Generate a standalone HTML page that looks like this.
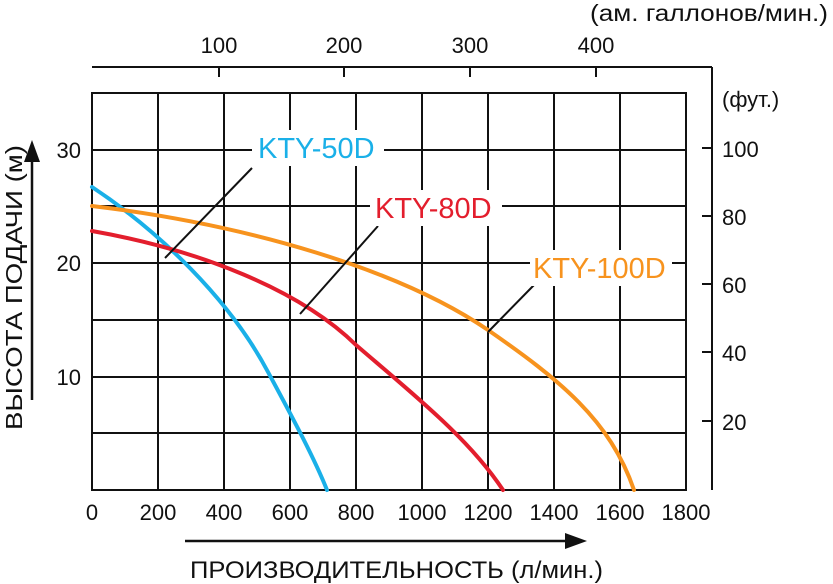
<!DOCTYPE html>
<html><head><meta charset="utf-8"><style>
html,body{margin:0;padding:0;background:#fff;}
svg{display:block;font-family:"Liberation Sans","DejaVu Sans",sans-serif;}
</style></head><body>
<svg width="833" height="584" viewBox="0 0 833 584" xmlns="http://www.w3.org/2000/svg">
<rect width="833" height="584" fill="#fff"/>
<g stroke="#111" stroke-width="2" fill="none">
<rect x="92" y="93" width="594" height="397"/>
<line x1="158" y1="93" x2="158" y2="490"/><line x1="224" y1="93" x2="224" y2="490"/>
<line x1="290" y1="93" x2="290" y2="490"/><line x1="356" y1="93" x2="356" y2="490"/>
<line x1="422" y1="93" x2="422" y2="490"/><line x1="488" y1="93" x2="488" y2="490"/>
<line x1="554" y1="93" x2="554" y2="490"/><line x1="620" y1="93" x2="620" y2="490"/>
<line x1="92" y1="150" x2="686" y2="150"/><line x1="92" y1="206" x2="686" y2="206"/>
<line x1="92" y1="263" x2="686" y2="263"/><line x1="92" y1="320" x2="686" y2="320"/>
<line x1="92" y1="377" x2="686" y2="377"/><line x1="92" y1="433" x2="686" y2="433"/>
<line x1="712" y1="67" x2="712" y2="490"/>
<line x1="92" y1="67" x2="712" y2="67"/>
<line x1="219" y1="67" x2="219" y2="77"/><line x1="344" y1="67" x2="344" y2="77"/>
<line x1="470" y1="67" x2="470" y2="77"/><line x1="596" y1="67" x2="596" y2="77"/>
<line x1="702" y1="148" x2="712" y2="148"/><line x1="702" y1="216" x2="712" y2="216"/>
<line x1="702" y1="284" x2="712" y2="284"/><line x1="702" y1="352" x2="712" y2="352"/>
<line x1="702" y1="421" x2="712" y2="421"/>
</g>
<g fill="none" stroke-width="4" stroke-linecap="round">
<path d="M92,187 C160,232 230,300 268,372 C295,422 315,460 327,490" stroke="#1ab0e8"/>
<path d="M92,231 C200,250 300,290 356,345 C420,400 470,440 503,490" stroke="#e31e2d"/>
<path d="M92,206 C250,225 400,270 488,330 C560,380 610,420 634,490" stroke="#f7931e"/>
</g>
<g stroke="#111" stroke-width="2">
<line x1="252" y1="168" x2="165" y2="258"/>
<line x1="378" y1="226" x2="300" y2="314"/>
<line x1="535" y1="284" x2="488" y2="332"/>
</g>
<rect x="252" y="130" width="132" height="36" fill="#fff"/>
<rect x="370" y="190" width="132" height="36" fill="#fff"/>
<rect x="530" y="250" width="142" height="36" fill="#fff"/>
<g font-size="29">
<text x="258" y="158" fill="#1ab0e8">KTY-50D</text>
<text x="375" y="218" fill="#e31e2d">KTY-80D</text>
<text x="533" y="278" fill="#f7931e">KTY-100D</text>
</g>
<g font-size="22" fill="#111">
<g text-anchor="end"><text x="81" y="158">30</text><text x="81" y="271">20</text><text x="81" y="385">10</text></g>
<g text-anchor="middle">
<text x="92" y="520">0</text><text x="158" y="520">200</text><text x="224" y="520">400</text><text x="290" y="520">600</text>
<text x="356" y="520">800</text><text x="422" y="520">1000</text><text x="488" y="520">1200</text><text x="554" y="520">1400</text>
<text x="620" y="520">1600</text><text x="686" y="520">1800</text>
<text x="219" y="53">100</text><text x="344" y="53">200</text><text x="470" y="53">300</text><text x="596" y="53">400</text>
</g>
<text x="722" y="157">100</text><text x="722" y="225">80</text><text x="722" y="293">60</text>
<text x="722" y="361">40</text><text x="722" y="430">20</text>
<text x="722" y="107">(фут.)</text>
<text x="590" y="21" font-size="23" textLength="238" lengthAdjust="spacingAndGlyphs">(ам. галлонов/мин.)</text>
<text x="190" y="578" font-size="24" textLength="413" lengthAdjust="spacingAndGlyphs">ПРОИЗВОДИТЕЛЬНОСТЬ (л/мин.)</text>
<text transform="translate(22,430) rotate(-90)" font-size="23" textLength="285" lengthAdjust="spacingAndGlyphs">ВЫСОТА ПОДАЧИ (м)</text>
</g>
<g fill="#111" stroke="#111">
<line x1="32" y1="400" x2="32" y2="160" stroke-width="2.5"/>
<polygon points="32,140 24,162 40,162" stroke="none"/>
<line x1="185" y1="541" x2="565" y2="541" stroke-width="2.5"/>
<polygon points="587,541 565,533 565,549" stroke="none"/>
</g>
</svg>
</body></html>
